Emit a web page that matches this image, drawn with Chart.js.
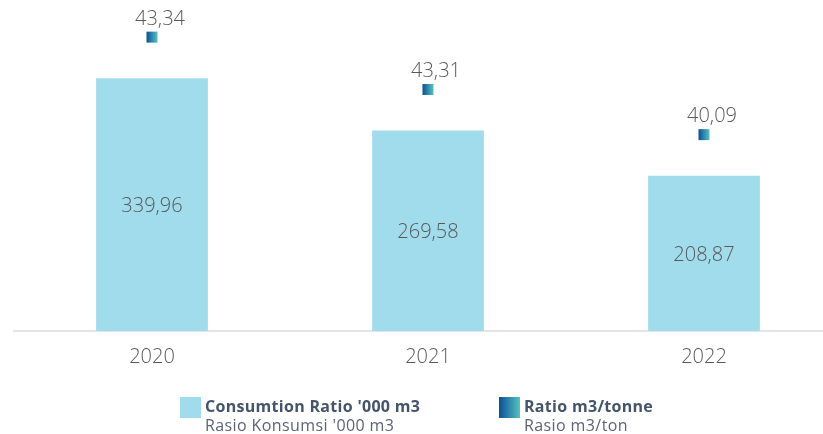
<!DOCTYPE html>
<html>
<head>
<meta charset="utf-8">
<script src="https://cdn.jsdelivr.net/npm/chart.js@4"></script>
<style>
  html, body { margin: 0; padding: 0; background: #fff; overflow: hidden; }
  #wrap { position: relative; width: 842px; height: 434px; }
  .legend { position: absolute; top: 397px; font-family: "Open Sans", sans-serif; }
  .legend .sw { position: absolute; left: 0; top: 0; width: 21px; height: 21px; }
  .legend .t1 { position: absolute; left: 25px; top: -1px; font-size: 16px; font-weight: 700; color: #44546a; white-space: nowrap; line-height: 20px; letter-spacing: 0.3px; }
  .legend .t2 { position: absolute; left: 25px; top: 18px; font-size: 16px; color: #5b6475; white-space: nowrap; line-height: 20px; letter-spacing: 0.4px; }
</style>
</head>
<body>
<div id="wrap">
  <canvas id="chart" width="842" height="434"></canvas>
  <div class="legend" style="left:180px">
    <div class="sw" style="background:#a1dced"></div>
    <div class="t1">Consumtion Ratio '000 m3</div>
    <div class="t2">Rasio Konsumsi '000 m3</div>
  </div>
  <div class="legend" style="left:499px">
    <div class="sw" style="background:linear-gradient(90deg,#0b4f98,#56c2bf)"></div>
    <div class="t1">Ratio m3/tonne</div>
    <div class="t2">Rasio m3/ton</div>
  </div>
</div>
<script>
const years = ["2020", "2021", "2022"];
const consumption = [339.96, 269.58, 208.87];
const ratio = [43.34, 43.31, 40.09];

const TEXT = "#595959";
const FONT = "'Open Sans', sans-serif";
const fmt = v => v.toFixed(2).replace(".", ",");

// value inside each bar + ratio marker floating above it
const labelsPlugin = {
  id: "labels",
  afterDatasetsDraw(chart) {
    const { ctx } = chart;
    const bars = chart.getDatasetMeta(0).data;
    ctx.save();
    ctx.font = `300 20px ${FONT}`;
    ctx.fillStyle = TEXT;
    ctx.textAlign = "center";
    ctx.textBaseline = "middle";
    bars.forEach((bar, i) => {
      ctx.fillText(fmt(consumption[i]), bar.x, (bar.y + bar.base) / 2 + 2);

      const mx = bar.x, my = bar.y - 41, s = 11;
      const g = ctx.createLinearGradient(mx - s / 2, 0, mx + s / 2, 0);
      g.addColorStop(0, "#0b4f98");
      g.addColorStop(1, "#56c2bf");
      ctx.fillStyle = g;
      ctx.fillRect(mx - s / 2, my - s / 2, s, s);

      ctx.fillStyle = TEXT;
      ctx.fillText(fmt(ratio[i]), mx + 8, my - 18);
    });
    ctx.restore();
  },
};

new Chart(document.getElementById("chart"), {
  type: "bar",
  data: {
    labels: years,
    datasets: [{
      data: consumption,
      backgroundColor: "#a1dced",
      categoryPercentage: 1,
      barPercentage: 0.405,
    }],
  },
  options: {
    responsive: false,
    animation: false,
    layout: { padding: { left: 14, right: 0, top: 0, bottom: 0 } },
    plugins: { legend: { display: false }, tooltip: { enabled: false } },
    scales: {
      x: {
        grid: { display: false, drawTicks: false },
        border: { color: "#e3e4e8", width: 2 },
        ticks: { color: TEXT, font: { family: FONT, size: 20, weight: "300" }, padding: 14 },
        afterFit: s => { s.height = 103; },
      },
      y: { display: false, min: 0, max: 445 },
    },
  },
  plugins: [labelsPlugin],
});
</script>
</body>
</html>
